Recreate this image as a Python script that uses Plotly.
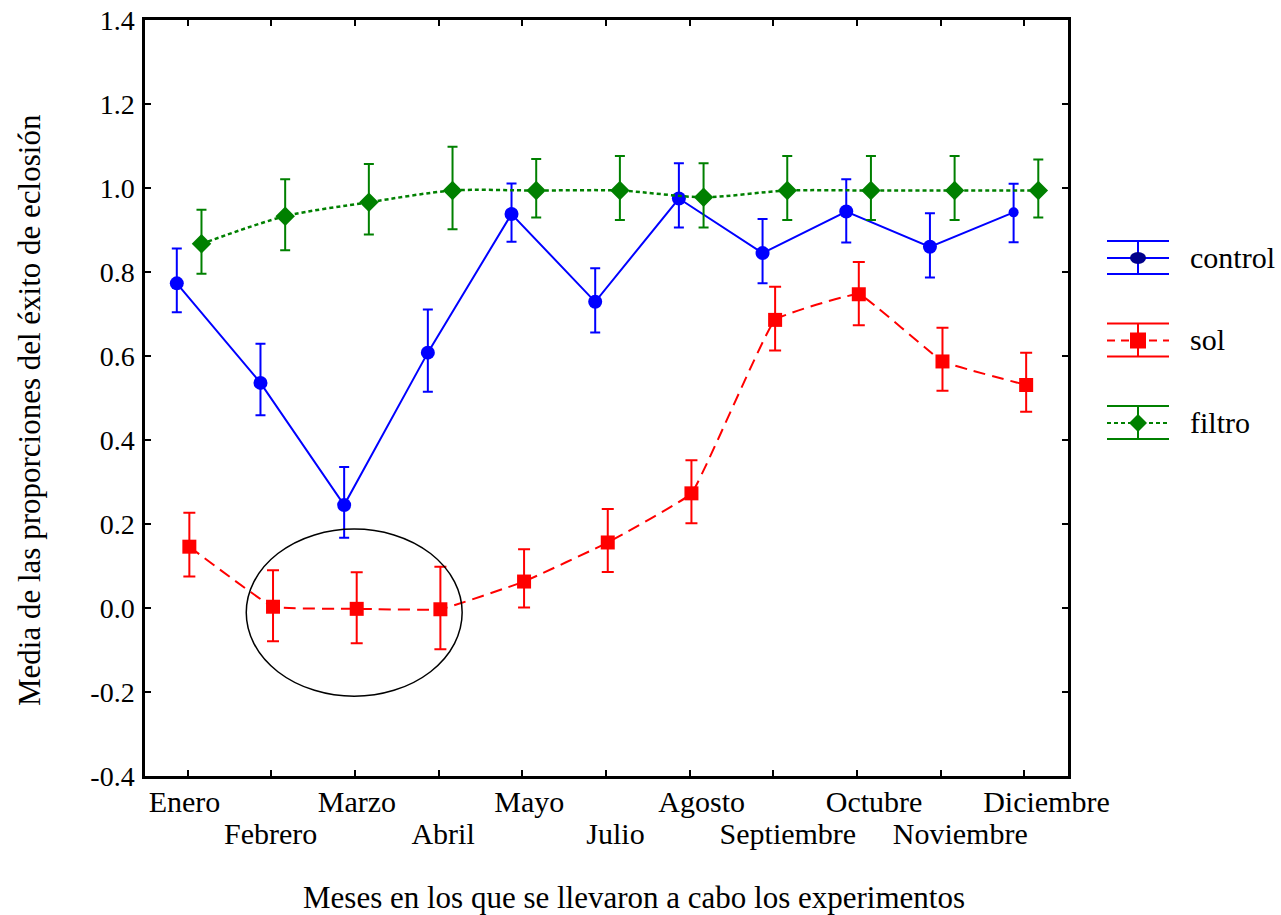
import plotly.graph_objects as go

# Months of the experiments (tick labels alternate between two rows)
months = ["Enero", "Febrero", "Marzo", "Abril", "Mayo", "Julio", "Agosto",
          "Septiembre", "Octubre", "Noviembre", "Diciembre"]

# Mean hatching proportion and the upper / lower ends of each error bar
control_mean = [0.773, 0.536, 0.245, 0.608, 0.938, 0.729, 0.975, 0.845, 0.944, 0.860, 0.942]
control_hi = [0.856, 0.629, 0.336, 0.711, 1.011, 0.809, 1.059, 0.926, 1.021, 0.940, 1.010]
control_lo = [0.704, 0.459, 0.167, 0.515, 0.872, 0.656, 0.906, 0.773, 0.870, 0.787, 0.871]

sol_mean = [0.146, 0.003, -0.002, -0.003, 0.063, 0.156, 0.273, 0.686, 0.747, 0.587, 0.531]
sol_hi = [0.227, 0.090, 0.085, 0.098, 0.140, 0.236, 0.352, 0.765, 0.824, 0.667, 0.608]
sol_lo = [0.075, -0.079, -0.084, -0.098, 0.001, 0.086, 0.202, 0.613, 0.673, 0.517, 0.467]

filtro_mean = [0.867, 0.933, 0.966, 0.994, 0.994, 0.994, 0.978, 0.994, 0.994, 0.994, 0.994]
filtro_hi = [0.948, 1.021, 1.057, 1.098, 1.069, 1.076, 1.059, 1.076, 1.076, 1.076, 1.068]
filtro_lo = [0.796, 0.852, 0.889, 0.902, 0.930, 0.924, 0.906, 0.924, 0.924, 0.924, 0.930]

y_ticks = [-0.4, -0.2, 0.0, 0.2, 0.4, 0.6, 0.8, 1.0, 1.2, 1.4]

FONT = "Liberation Serif"
BLUE, RED, GREEN = "#0000FF", "#FF0000", "#008000"

# Plot-area geometry in pixels (used for the hand-built legend)
W, H = 1281, 915
ML, MR, MT, MB = 145, 213, 20, 139
PW, PH = W - ML - MR, H - MT - MB


def pxx(x):
    return (x - ML) / PW


def pxy(y):
    return (H - MB - y) / PH


def errs(mean, hi, lo):
    return dict(type="data", symmetric=False,
                array=[h - m for h, m in zip(hi, mean)],
                arrayminus=[m - l for m, l in zip(mean, lo)])


idx = list(range(len(months)))
even_idx = idx[0::2]
odd_idx = idx[1::2]

fig = go.Figure()

# control: solid line, circles, shifted slightly left of each month
e = errs(control_mean, control_hi, control_lo)
e.update(color=BLUE, thickness=2, width=5)
fig.add_trace(go.Scatter(
    x=[i - 0.13 for i in idx], y=control_mean, mode="lines+markers", name="control",
    line=dict(color=BLUE, width=2),
    marker=dict(symbol="circle", color=BLUE, size=[14] * 10 + [10], opacity=1,
                line=dict(color=BLUE, width=0)),
    error_y=e, showlegend=False))

# sol: dashed, lightly smoothed line, squares
e = errs(sol_mean, sol_hi, sol_lo)
e.update(color=RED, thickness=2, width=6)
fig.add_trace(go.Scatter(
    x=[i + 0.02 for i in idx], y=sol_mean, mode="lines+markers", name="sol",
    line=dict(color=RED, width=2, dash="12px,7px", shape="spline", smoothing=0.25),
    marker=dict(symbol="square", color=RED, size=14, opacity=1),
    error_y=e, showlegend=False))

# filtro: dotted smoothed line, diamonds, shifted right
e = errs(filtro_mean, filtro_hi, filtro_lo)
e.update(color=GREEN, thickness=2, width=5)
fig.add_trace(go.Scatter(
    x=[i + 0.165 for i in idx], y=filtro_mean, mode="lines+markers", name="filtro",
    line=dict(color=GREEN, width=2.5, dash="4px,3px", shape="spline", smoothing=0.8),
    marker=dict(symbol="diamond", color=GREEN, size=15, opacity=1),
    error_y=e, showlegend=False))

# Invisible carriers so the two month-label axes get drawn
for ax in ("x2", "x3"):
    fig.add_trace(go.Scatter(x=[0], y=[None], xaxis=ax, yaxis="y",
                             mode="markers", showlegend=False, hoverinfo="skip"))

# Ellipse highlighting the near-zero sol months
fig.add_shape(type="circle", xref="x", yref="y", x0=0.70, x1=3.28, y0=-0.21, y1=0.188,
              line=dict(color="black", width=1.5))

# Hand-built legend with error-bar style glyphs
legend_items = [
    ("control", BLUE, "solid", "circle", "#00008B", 258),
    ("sol", RED, "dash", "square", RED, 340.5),
    ("filtro", GREEN, "dot", "diamond", GREEN, 423),
]
gx0, gx1, gxm = 1107, 1169, 1138
for label, col, dash, sym, mcol, cy in legend_items:
    for yy in (cy - 17, cy + 16):
        fig.add_shape(type="line", xref="paper", yref="paper",
                      x0=pxx(gx0), x1=pxx(gx1), y0=pxy(yy), y1=pxy(yy),
                      line=dict(color=col, width=2))
    fig.add_shape(type="line", xref="paper", yref="paper",
                  x0=pxx(gxm), x1=pxx(gxm), y0=pxy(cy - 17), y1=pxy(cy + 16),
                  line=dict(color=col, width=2))
    ldash = {"solid": "solid", "dash": "8px,6px", "dot": "4px,3px"}[dash]
    fig.add_shape(type="line", xref="paper", yref="paper",
                  x0=pxx(gx0), x1=pxx(gx1), y0=pxy(cy), y1=pxy(cy),
                  line=dict(color=col, width=2, dash=ldash))
    if sym == "circle":
        r = 7
        fig.add_shape(type="circle", xref="paper", yref="paper",
                      x0=pxx(gxm - r - 1), x1=pxx(gxm + r + 1), y0=pxy(cy + r - 1), y1=pxy(cy - r + 1),
                      line=dict(color=mcol, width=0), fillcolor=mcol)
    elif sym == "square":
        r = 8
        fig.add_shape(type="rect", xref="paper", yref="paper",
                      x0=pxx(gxm - r), x1=pxx(gxm + r), y0=pxy(cy + r), y1=pxy(cy - r),
                      line=dict(color=mcol, width=0), fillcolor=mcol)
    else:
        r = 9
        path = "M {} {} L {} {} L {} {} L {} {} Z".format(
            pxx(gxm), pxy(cy - r), pxx(gxm + r), pxy(cy),
            pxx(gxm), pxy(cy + r), pxx(gxm - r), pxy(cy))
        fig.add_shape(type="path", xref="paper", yref="paper", path=path,
                      line=dict(color=mcol, width=0), fillcolor=mcol)
    fig.add_annotation(xref="paper", yref="paper", x=pxx(1188), y=pxy(cy - 1),
                       text=label, showarrow=False, xanchor="left", yanchor="middle",
                       font=dict(family=FONT, size=30, color="black"))

# Axis titles
fig.add_annotation(xref="paper", yref="paper", x=pxx(634), y=pxy(897),
                   text="Meses en los que se llevaron a cabo los experimentos",
                   showarrow=False, xanchor="center", yanchor="middle",
                   font=dict(family=FONT, size=31, color="black"))
fig.add_annotation(xref="paper", yref="paper", x=pxx(30), y=pxy(410),
                   text="Media de las proporciones del éxito de eclosión",
                   showarrow=False, textangle=-90, xanchor="center", yanchor="middle",
                   font=dict(family=FONT, size=31, color="black"))

x_range = [-0.51, 10.52]
# month labels are spread a little wider than the tick marks
label_range = [-0.458, 10.25]
tick_font = dict(family=FONT, size=30, color="black")
label_axis = dict(range=label_range, overlaying="x", side="bottom", anchor="y",
                  tickmode="array", tickangle=0, automargin=False, ticks="",
                  showline=False, showgrid=False, zeroline=False, tickfont=tick_font)

fig.update_layout(
    width=W, height=H,
    margin=dict(l=ML, r=MR, t=MT, b=MB, pad=0),
    paper_bgcolor="white", plot_bgcolor="white",
    font=dict(family=FONT, size=28, color="black"),
    # tick marks at every month
    xaxis=dict(range=x_range, tickmode="array", tickvals=idx, showticklabels=False,
               automargin=False,
               ticks="inside", ticklen=6, tickwidth=1.5, tickcolor="black",
               showline=True, linecolor="black", linewidth=2.5, mirror="ticks",
               showgrid=False, zeroline=False),
    # upper row of month labels
    xaxis2=dict(label_axis, tickvals=even_idx, ticktext=[months[i] for i in even_idx],
                ticklabelstandoff=5),
    # lower row of month labels
    xaxis3=dict(label_axis, tickvals=odd_idx, ticktext=[months[i] for i in odd_idx],
                ticklabelstandoff=37),
    yaxis=dict(range=[-0.4, 1.4], tickmode="array", tickvals=y_ticks,
               ticktext=["{:.1f}".format(v) for v in y_ticks], automargin=False,
               ticks="inside", ticklen=6, tickwidth=1.5, tickcolor="black",
               showline=True, linecolor="black", linewidth=2.5, mirror="ticks",
               showgrid=False, zeroline=False, ticklabelstandoff=2,
               tickfont=dict(family=FONT, size=28, color="black")),
)

fig.write_html("out.html")
